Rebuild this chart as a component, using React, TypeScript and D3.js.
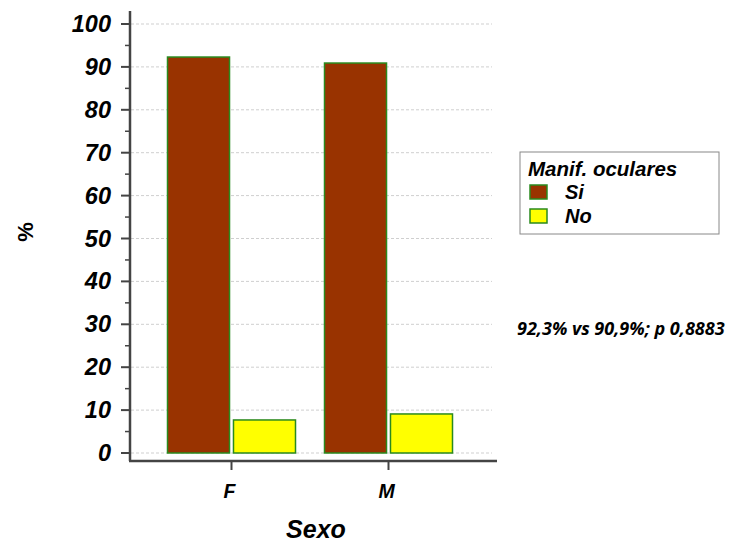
import React, { useEffect, useRef } from 'react';
import * as d3 from 'd3';

const categories = ['F', 'M'];
const seriesNames = ['Si', 'No'];
const siValues = [92.3, 90.9];
const noValues = [7.7, 9.1];
const yTicks = [0, 10, 20, 30, 40, 50, 60, 70, 80, 90, 100];
const colors = ['#993300', '#ffff00'];
const note = '92,3% vs 90,9%; p 0,8883';

const App = () => {
  const ref = useRef<SVGSVGElement | null>(null);

  useEffect(() => {
    const svg = d3.select(ref.current);
    svg.selectAll('*').remove();

    const left = 130, right = 497, top = 11, bottom = 461;
    const font = '"Liberation Sans", Arial, sans-serif';

    const y = d3.scaleLinear().domain([0, 100]).range([453, 24]);
    const x = d3.scaleBand().domain(categories).range([153, 467]).padding(0);
    // two bars per group, 62px wide with a 4px gap
    const x1 = d3.scaleBand().domain(seriesNames).range([14.5, x.bandwidth() - 14.5]).paddingInner(0.06);

    // grid
    svg.append('g')
      .selectAll('line')
      .data(yTicks)
      .enter().append('line')
      .attr('x1', left + 1).attr('x2', 492)
      .attr('y1', d => y(d)).attr('y2', d => y(d))
      .attr('stroke', '#cfcfcf').attr('stroke-width', 1)
      .attr('stroke-dasharray', '3,2');

    const rows = categories.map((c, i) => ({ cat: c, vals: [siValues[i], noValues[i]] }));

    const groups = svg.append('g').selectAll('g')
      .data(rows)
      .enter().append('g')
      .attr('transform', d => `translate(${x(d.cat)},0)`);

    groups.selectAll('rect')
      .data(d => d.vals.map((v, j) => ({ key: seriesNames[j], v, j })))
      .enter().append('rect')
      .attr('x', d => x1(d.key)!)
      .attr('width', x1.bandwidth())
      .attr('y', d => y(d.v))
      .attr('height', d => y(0) - y(d.v))
      .attr('fill', d => colors[d.j])
      .attr('stroke', '#2a8a1e').attr('stroke-width', 1.5);

    // y axis
    const yAxis = svg.append('g').attr('transform', `translate(${left},0)`);
    yAxis.append('line').attr('x1', 0).attr('x2', 0).attr('y1', top).attr('y2', bottom)
      .attr('stroke', '#444').attr('stroke-width', 2.5);
    yAxis.selectAll('.major').data(yTicks).enter().append('line')
      .attr('x1', -9).attr('x2', 0).attr('y1', d => y(d)).attr('y2', d => y(d))
      .attr('stroke', '#444').attr('stroke-width', 2);
    yAxis.selectAll('.minor').data(yTicks.slice(0, -1).map(d => d + 5)).enter().append('line')
      .attr('x1', -5).attr('x2', 0).attr('y1', d => y(d)).attr('y2', d => y(d))
      .attr('stroke', '#444').attr('stroke-width', 1.5);
    yAxis.selectAll('text').data(yTicks).enter().append('text')
      .attr('x', -19).attr('y', d => y(d) + 8)
      .attr('text-anchor', 'end')
      .style('font-family', font).style('font-weight', 'bold').style('font-style', 'italic')
      .style('font-size', '23.5px')
      .text(d => d);

    // x axis
    const xAxis = svg.append('g');
    xAxis.append('line').attr('x1', left - 1).attr('x2', right).attr('y1', bottom).attr('y2', bottom)
      .attr('stroke', '#444').attr('stroke-width', 2.5);
    xAxis.selectAll('.tick').data(categories).enter().append('line')
      .attr('x1', d => x(d)! + x.bandwidth() / 2).attr('x2', d => x(d)! + x.bandwidth() / 2)
      .attr('y1', bottom).attr('y2', bottom + 9)
      .attr('stroke', '#444').attr('stroke-width', 2);
    xAxis.selectAll('text').data(categories).enter().append('text')
      .attr('x', d => x(d)! + x.bandwidth() / 2 - 2).attr('y', 498)
      .attr('text-anchor', 'middle')
      .style('font-family', font).style('font-weight', 'bold').style('font-style', 'italic')
      .style('font-size', '19.5px')
      .text(d => d);

    svg.append('text').attr('x', 316).attr('y', 538).attr('text-anchor', 'middle')
      .style('font-family', font).style('font-weight', 'bold').style('font-style', 'italic')
      .style('font-size', '25px').text('Sexo');

    svg.append('text').attr('transform', 'translate(33,232) rotate(-90)').attr('text-anchor', 'middle')
      .style('font-family', font).style('font-weight', 'bold')
      .style('font-size', '22px').text('%');

    // legend
    const lg = svg.append('g');
    lg.append('rect').attr('x', 520).attr('y', 152).attr('width', 199).attr('height', 82)
      .attr('fill', 'white').attr('stroke', '#888').attr('stroke-width', 1);
    lg.append('text').attr('x', 528).attr('y', 176)
      .style('font-family', font).style('font-weight', 'bold').style('font-style', 'italic')
      .style('font-size', '20.5px').text('Manif. oculares');
    seriesNames.forEach((s, i) => {
      lg.append('rect').attr('x', 530).attr('y', 185 + i * 24).attr('width', 17).attr('height', 14)
        .attr('fill', colors[i]).attr('stroke', '#2a8a1e').attr('stroke-width', 1.5);
      lg.append('text').attr('x', 565).attr('y', 199 + i * 24)
        .style('font-family', font).style('font-weight', 'bold').style('font-style', 'italic')
        .style('font-size', '20px').text(s);
    });

    svg.append('text').attr('x', 517).attr('y', 335)
      .style('font-family', '"Open Sans", sans-serif').style('font-weight', 'bold').style('font-style', 'italic')
      .style('font-size', '18px').text(note);
  }, []);

  return (
    <svg ref={ref} width={729} height={544} style={{ position: 'absolute', left: 0, top: 0 }} />
  );
};

export default App;
